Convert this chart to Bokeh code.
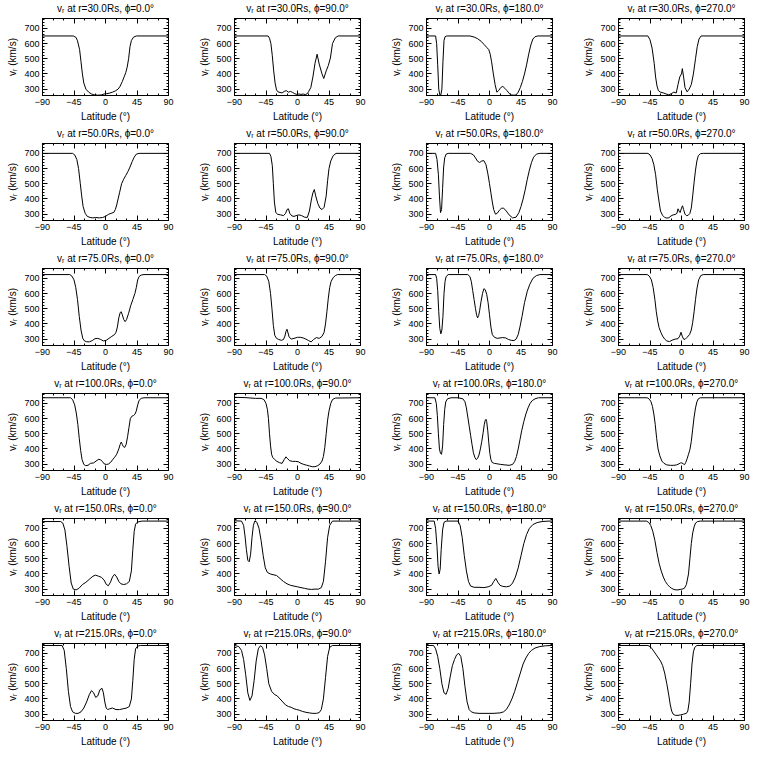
from bokeh.plotting import figure
from bokeh.layouts import gridplot
from bokeh.models import LinearAxis, FixedTicker, Range1d, CustomLabelingPolicy
from bokeh.embed import file_html
from bokeh.resources import INLINE

radii = [30.0, 50.0, 75.0, 100.0, 150.0, 215.0]
phis = [0.0, 90.0, 180.0, 270.0]

x_ticks = [-90, -45, 0, 45, 90]
x_minor = list(range(-90, 91, 15))
y_ticks = [300, 400, 500, 600, 700]
y_minor = list(range(260, 761, 20))

# ---------------- r = 30 Rs ----------------
lat_30_0 = [-90, -46, -42, -40, -37, -35, -33, -31, -28, -24, -20, -16, -11, -6, -2, 2, 6, 10, 14, 18, 21, 24, 27, 29, 31, 33, 35, 37, 40, 44, 90]
v_30_0 = [650, 650, 640, 618, 560, 480, 400, 340, 300, 280, 268, 262, 260, 262, 268, 270, 274, 280, 288, 300, 320, 350, 385, 410, 445, 500, 580, 620, 642, 650, 650]

lat_30_90 = [-90, -42, -40, -38, -36, -34, -32, -30, -28, -25, -22, -19, -16, -13, -10, -7, -4, -1, 2, 5, 8, 11, 14, 16, 19, 22, 25, 28, 31, 35, 37.5, 41, 44, 47, 50, 54, 58, 90]
v_30_90 = [650, 650, 635, 600, 520, 420, 340, 295, 282, 278, 275, 285, 290, 280, 285, 278, 270, 265, 268, 265, 268, 264, 270, 285, 310, 380, 470, 530, 465, 400, 370, 420, 455, 505, 600, 638, 650, 650]

lat_30_180 = [-90, -77, -75.5, -74, -72.5, -71, -69.5, -68, -66.5, -65, -63.5, -61, -28, -22, -17, -12, -8, -4, -1, 1, 3, 5.5, 8, 10.5, 13, 16, 19, 22, 25, 28, 31, 35, 38, 41, 44, 47, 50, 53, 56, 59, 62, 65, 69, 90]
v_30_180 = [650, 650, 600, 460, 300, 262, 262, 300, 480, 620, 645, 650, 650, 643, 632, 615, 595, 575, 560, 530, 480, 400, 330, 280, 290, 310, 318, 305, 290, 272, 262, 260, 262, 280, 310, 350, 400, 460, 530, 590, 630, 645, 650, 650]

lat_30_270 = [-90, -48, -45, -42, -39, -37, -35, -33, -30, -26, -22, -18, -14.5, -11, -7.5, -5, -2.5, 0, 1.2, 3, 5, 8, 11, 14, 17, 20, 22.5, 25, 28, 90]
v_30_270 = [650, 650, 625, 570, 470, 380, 320, 290, 280, 275, 268, 262, 270, 280, 275, 330, 380, 400, 435, 380, 310, 282, 300, 330, 400, 500, 580, 630, 650, 650]

# ---------------- r = 50 Rs ----------------
lat_50_0 = [-90, -47, -44, -41, -38.5, -36, -34, -32, -29, -26, -22, -18, -14, -9, -4, 0, 4, 8, 12, 14, 16, 18, 20, 23, 26, 29, 32, 35, 38, 41, 44, 48, 90]
v_50_0 = [700, 700, 690, 660, 600, 500, 420, 350, 305, 285, 278, 275, 278, 275, 278, 285, 298, 305, 312, 330, 360, 400, 440, 500, 530, 555, 580, 610, 645, 675, 695, 700, 700]

lat_50_90 = [-90, -40, -38, -36, -34.5, -33, -31, -28, -24, -20, -17, -15, -13, -11, -8, -5, -2, 2, 6, 10, 14, 17, 20, 22, 24, 26, 29, 32, 35, 38, 41, 43, 45, 47.5, 51, 55, 90]
v_50_90 = [700, 700, 680, 620, 500, 380, 310, 298, 295, 290, 305, 330, 335, 305, 288, 285, 290, 295, 290, 280, 278, 320, 400, 440, 462, 420, 370, 340, 330, 345, 420, 520, 600, 650, 685, 700, 700]

lat_50_180 = [-90, -77, -75, -73, -71.5, -70, -68.5, -67, -65.5, -64, -62, -59, -27, -23, -20, -17, -14, -11, -8, -5, -2.5, 0, 2, 4, 6, 8.5, 11, 14, 17, 20, 24, 28, 33, 38, 42, 45, 48, 51, 54, 57, 60, 63, 67, 72, 90]
v_50_180 = [700, 700, 660, 560, 420, 310, 330, 470, 610, 670, 695, 700, 700, 690, 670, 648, 640, 650, 652, 625, 570, 500, 440, 380, 330, 300, 305, 325, 338, 340, 320, 295, 275, 280, 310, 350, 400, 460, 530, 590, 640, 675, 695, 700, 700]

lat_50_270 = [-90, -48, -45, -42, -39.5, -37, -34.5, -32, -30, -27, -24, -21, -18, -15, -12, -9, -6.5, -5, -3.5, -2, 0, 1.5, 3, 5, 7, 9.5, 12, 14, 16, 18, 20, 22, 24, 27, 31, 90]
v_50_270 = [700, 700, 690, 665, 625, 560, 460, 380, 320, 292, 278, 274, 276, 288, 295, 298, 305, 335, 320, 310, 340, 355, 330, 300, 290, 292, 305, 340, 420, 510, 590, 650, 685, 698, 700, 700]

# ---------------- r = 75 Rs ----------------
lat_75_0 = [-90, -51, -48, -45, -42.5, -40, -37.5, -35, -32.5, -30, -27, -23, -19, -15, -11, -7, -3, 1, 5, 9, 13, 15, 17, 19, 21, 22.5, 24, 26, 28, 30, 33, 36, 39, 42, 44, 46, 48, 51, 55, 90]
v_75_0 = [725, 725, 715, 690, 640, 560, 450, 360, 305, 288, 283, 282, 290, 303, 305, 298, 288, 292, 305, 318, 330, 345, 380, 440, 475, 480, 460, 430, 415, 428, 470, 520, 560, 600, 640, 690, 712, 722, 725, 725]

lat_75_90 = [-90, -47, -44, -41, -38.5, -36.5, -34.5, -32.5, -30, -27, -23, -20, -18, -16.5, -15, -13.5, -12, -9, -5, 0, 4, 8, 12, 16, 19.5, 23, 27, 31, 35, 38, 40, 42, 44, 46, 48, 51, 54, 57, 90]
v_75_90 = [725, 725, 715, 680, 600, 500, 390, 325, 305, 298, 292, 298, 320, 350, 365, 340, 315, 300, 305, 312, 312, 308, 300, 290, 282, 298, 310, 305, 318, 345, 400, 480, 570, 640, 680, 705, 718, 725, 725]

lat_75_180 = [-90, -77, -75.5, -74, -72.5, -71, -69.5, -68, -66.5, -65, -63.5, -62, -59, -31, -28, -26, -24, -22, -20, -18.5, -17, -15.5, -14, -12, -10, -8, -6, -4, -2, 0, 2, 4, 7, 11, 15, 19, 23, 27, 31, 35, 38, 41, 43.5, 46.5, 50, 54, 57.5, 62, 67, 72, 90]
v_75_180 = [725, 725, 700, 620, 480, 370, 335, 360, 450, 600, 680, 712, 725, 725, 712, 680, 620, 560, 500, 460, 440, 455, 490, 550, 600, 632, 625, 595, 540, 460, 380, 330, 312, 305, 308, 310, 308, 298, 292, 290, 300, 330, 380, 450, 540, 615, 660, 700, 718, 725, 725]

lat_75_270 = [-90, -49, -46, -43, -40.5, -38, -36, -34, -32, -29.5, -27, -24, -21, -17, -13.5, -9, -5, -2.5, -0.7, 1, 3, 5, 8, 11.5, 14, 16, 18, 20, 22, 24.5, 27.5, 31, 90]
v_75_270 = [725, 725, 715, 690, 640, 560, 480, 420, 375, 345, 320, 300, 288, 284, 293, 300, 303, 320, 345, 320, 300, 298, 312, 330, 360, 410, 480, 560, 630, 690, 718, 725, 725]

# ---------------- r = 100 Rs ----------------
lat_100_0 = [-90, -50, -47, -44, -41.5, -39.5, -37.5, -35.5, -33.5, -31, -28.5, -25, -21.5, -17, -12, -9.5, -7, -4.5, -2, 1, 4, 7, 10, 13, 16, 19, 21, 22.5, 24, 25.5, 27.5, 29.5, 31.5, 33.5, 35.5, 37.5, 40, 42, 44, 46, 48, 51, 55, 90]
v_100_0 = [737, 737, 725, 690, 630, 560, 470, 390, 330, 298, 290, 292, 305, 308, 325, 332, 328, 318, 302, 298, 300, 310, 328, 345, 365, 400, 430, 445, 430, 415, 410, 430, 480, 540, 600, 615, 620, 628, 650, 690, 720, 733, 737, 737]

lat_100_90 = [-90, -75, -60, -52, -48, -45, -43, -41.5, -40, -38.5, -37, -35.5, -33, -30, -26, -22, -19, -16.5, -14, -11, -7, -3, 1, 5, 9, 13, 17, 21, 25, 29, 32, 35, 37, 39, 41, 43, 45, 47.5, 50, 54, 90]
v_100_90 = [740, 738, 733, 733, 725, 700, 660, 600, 500, 420, 365, 345, 332, 320, 310, 305, 330, 348, 335, 322, 318, 318, 316, 305, 298, 293, 288, 283, 283, 290, 300, 320, 350, 410, 500, 590, 650, 700, 725, 735, 737]

lat_100_180 = [-90, -78, -76, -74.5, -73, -71.5, -70, -68.5, -67, -65.5, -64, -62.5, -60, -55, -45, -38, -35, -33, -31, -29, -27, -25, -23, -21, -19, -17, -15, -13, -11, -9, -7.5, -6, -5, -4, -2.5, -1, 0.5, 2, 4, 7, 11, 16, 22, 28, 33, 36, 38.5, 41, 43.5, 46, 49, 52, 55, 58, 61, 65, 70, 90]
v_100_180 = [737, 737, 700, 620, 500, 400, 370, 365, 420, 560, 660, 710, 730, 737, 737, 730, 710, 670, 610, 550, 490, 430, 375, 345, 330, 338, 360, 400, 450, 510, 560, 590, 595, 580, 520, 440, 370, 330, 310, 305, 302, 298, 295, 292, 298, 318, 350, 400, 460, 520, 580, 630, 670, 700, 718, 730, 737, 737]

lat_100_270 = [-90, -49, -46, -43.5, -41.5, -39.5, -37.5, -35.5, -33.5, -31, -28, -25, -21, -16, -11, -7, -3.5, -1.5, 0.5, 2.5, 4.3, 6, 8, 10, 12, 14, 16, 18, 20, 22, 24, 27, 90]
v_100_270 = [737, 737, 728, 710, 680, 630, 560, 470, 400, 355, 320, 305, 295, 292, 292, 295, 302, 308, 308, 302, 296, 310, 335, 365, 395, 450, 530, 610, 670, 710, 730, 737, 737]

# ---------------- r = 150 Rs ----------------
lat_150_0 = [-90, -64, -61, -58, -55, -52, -49, -46, -42, -38, -33, -28, -23, -18, -14, -10, -6, -2, 1, 4, 7, 10, 13, 16, 19, 22, 26, 30, 34, 37, 39, 41, 43, 46, 52, 90]
v_150_0 = [745, 745, 735, 690, 580, 450, 340, 300, 295, 305, 330, 345, 365, 385, 392, 385, 378, 360, 332, 322, 345, 380, 398, 380, 350, 335, 330, 335, 350, 420, 560, 680, 728, 742, 748, 748]

lat_150_90 = [-90, -80, -77, -75, -73, -71, -69, -67, -65, -63, -61, -58, -55, -52, -49, -46, -43, -39, -35, -30, -25, -20, -15, -10, -5, 0, 5, 10, 15, 20, 25, 30, 34, 37, 40, 43, 46, 50, 90]
v_150_90 = [750, 748, 720, 650, 560, 490, 480, 530, 640, 720, 748, 740, 700, 620, 520, 440, 410, 400, 395, 390, 370, 350, 335, 325, 320, 315, 310, 305, 300, 298, 300, 300, 310, 350, 480, 640, 720, 748, 748]

lat_150_180 = [-90, -79, -77, -75, -73.5, -72, -70.5, -69, -67, -65, -62, -45, -42, -39, -36, -33, -30, -27, -22, -15, -8, -2, 3, 6, 9, 12, 15, 19, 24, 29, 33, 37, 41, 45, 49, 53, 57, 62, 68, 75, 85, 90]
v_150_180 = [748, 748, 700, 580, 450, 400, 430, 560, 690, 740, 748, 748, 720, 640, 520, 420, 350, 320, 312, 312, 310, 315, 325, 350, 370, 345, 325, 318, 315, 320, 340, 380, 440, 520, 600, 660, 700, 725, 738, 745, 748, 748]

lat_150_270 = [-90, -50, -47, -44, -41, -38, -35, -32, -29, -26, -23, -20, -17, -14, -11, -8, -5, -2, 1, 4, 7, 10, 12, 14, 16, 18, 20, 23, 27, 90]
v_150_270 = [748, 748, 740, 720, 680, 620, 540, 470, 420, 380, 350, 330, 315, 305, 298, 295, 295, 298, 300, 305, 330, 400, 500, 600, 670, 710, 735, 745, 748, 748]

# ---------------- r = 215 Rs ----------------
lat_215_0 = [-90, -62, -59, -56, -53, -50, -47, -43, -39, -35, -31, -27, -23, -20, -17, -14, -11, -8, -5, -3, -1, 1, 3, 6, 10, 15, 20, 25, 30, 34, 37, 39, 41, 43, 46, 50, 90]
v_215_0 = [752, 752, 720, 600, 450, 350, 315, 305, 305, 315, 340, 380, 430, 455, 440, 410, 420, 460, 470, 440, 380, 340, 330, 335, 340, 330, 330, 335, 340, 350, 400, 520, 660, 730, 748, 752, 752]

lat_215_90 = [-90, -84, -80, -77, -74, -71, -68, -65, -62, -59, -56, -53, -50, -47, -44, -41, -37, -33, -29, -25, -21, -17, -13, -9, -5, -1, 3, 7, 12, 17, 22, 27, 31, 34, 37, 40, 43, 46, 50, 90]
v_215_90 = [752, 745, 720, 660, 560, 440, 390, 420, 520, 650, 730, 750, 740, 690, 600, 500, 450, 430, 420, 400, 380, 360, 350, 345, 335, 330, 325, 318, 312, 308, 305, 305, 310, 330, 400, 540, 680, 740, 752, 752]

lat_215_180 = [-90, -80, -77, -74, -71, -68, -65, -62, -59, -56, -53, -50, -47, -44, -41, -38, -35, -32, -29, -26, -22, -15, -5, 5, 15, 20, 24, 28, 32, 36, 40, 44, 48, 52, 56, 60, 65, 72, 80, 90]
v_215_180 = [752, 752, 730, 680, 600, 500, 440, 430, 470, 550, 620, 660, 690, 700, 680, 600, 480, 380, 330, 315, 308, 305, 305, 305, 308, 315, 330, 360, 400, 450, 510, 570, 630, 670, 700, 720, 735, 745, 750, 752]

lat_215_270 = [-90, -48, -45, -42, -39, -36, -33, -30, -27, -24, -21, -18, -16, -14, -12, -9, -5, -1, 3, 7, 9, 11, 13, 15, 17, 19, 22, 90]
v_215_270 = [752, 752, 745, 730, 710, 690, 670, 650, 620, 570, 500, 420, 360, 320, 300, 292, 292, 295, 300, 305, 320, 380, 500, 630, 710, 740, 752, 752]

series = {
    (30.0, 0.0): (lat_30_0, v_30_0), (30.0, 90.0): (lat_30_90, v_30_90),
    (30.0, 180.0): (lat_30_180, v_30_180), (30.0, 270.0): (lat_30_270, v_30_270),
    (50.0, 0.0): (lat_50_0, v_50_0), (50.0, 90.0): (lat_50_90, v_50_90),
    (50.0, 180.0): (lat_50_180, v_50_180), (50.0, 270.0): (lat_50_270, v_50_270),
    (75.0, 0.0): (lat_75_0, v_75_0), (75.0, 90.0): (lat_75_90, v_75_90),
    (75.0, 180.0): (lat_75_180, v_75_180), (75.0, 270.0): (lat_75_270, v_75_270),
    (100.0, 0.0): (lat_100_0, v_100_0), (100.0, 90.0): (lat_100_90, v_100_90),
    (100.0, 180.0): (lat_100_180, v_100_180), (100.0, 270.0): (lat_100_270, v_100_270),
    (150.0, 0.0): (lat_150_0, v_150_0), (150.0, 90.0): (lat_150_90, v_150_90),
    (150.0, 180.0): (lat_150_180, v_150_180), (150.0, 270.0): (lat_150_270, v_150_270),
    (215.0, 0.0): (lat_215_0, v_215_0), (215.0, 90.0): (lat_215_90, v_215_90),
    (215.0, 180.0): (lat_215_180, v_215_180), (215.0, 270.0): (lat_215_270, v_215_270),
}

FONT = "Liberation Sans"
col_widths = [192, 192, 192, 176]
col_right = [24, 24, 24, 8]


def style_axis(ax, ticks, minor, labels):
    ax.ticker = FixedTicker(ticks=ticks, minor_ticks=minor)
    ax.axis_line_color = "black"
    ax.major_tick_line_color = "black"
    ax.minor_tick_line_color = "black"
    ax.major_tick_in = 5
    ax.major_tick_out = 0
    ax.minor_tick_in = 2
    ax.minor_tick_out = 0
    if labels:
        ax.major_label_text_font = FONT
        ax.major_label_text_font_size = "9px"
        ax.major_label_text_color = "black"
        ax.major_label_standoff = 3
        ax.axis_label_text_font = FONT
        ax.axis_label_text_font_size = "10px"
        ax.axis_label_text_font_style = "normal"
        ax.axis_label_text_color = "black"
        ax.axis_label_standoff = 3
    else:
        # mirror axis: ticks only, no labels drawn at all
        ax.major_label_policy = CustomLabelingPolicy(code="return []")
        ax.major_label_text_font_size = "1px"
        ax.major_label_standoff = 0


rows = []
for r in radii:
    row_figs = []
    for ci, phi in enumerate(phis):
        lat, v = series[(r, phi)]
        p = figure(width=col_widths[ci], height=125,
                   x_range=Range1d(-90, 90), y_range=Range1d(258, 765),
                   output_backend="svg", toolbar_location=None, tools="",
                   min_border_left=42, min_border_right=col_right[ci],
                   min_border_top=13, min_border_bottom=30,
                   title=f"v\u1d63 at r={r:.1f}Rs, \u03d5={phi:.1f}\u00b0")
        p.title.align = "center"
        p.title.text_font = FONT
        p.title.text_font_size = "10px"
        p.title.text_font_style = "normal"
        p.title.text_color = "black"
        p.title.standoff = 1
        p.title.offset = 0
        p.xgrid.visible = False
        p.ygrid.visible = False
        p.outline_line_color = "black"
        p.outline_line_alpha = 1.0
        p.background_fill_color = "white"
        p.border_fill_color = "white"

        style_axis(p.xaxis[0], x_ticks, x_minor, True)
        style_axis(p.yaxis[0], y_ticks, y_minor, True)
        p.xaxis[0].axis_label = "Latitude (\u00b0)"
        p.yaxis[0].axis_label = "v\u1d63 (km/s)"

        top = LinearAxis()
        style_axis(top, x_ticks, x_minor, False)
        p.add_layout(top, "above")
        right = LinearAxis()
        style_axis(right, y_ticks, y_minor, False)
        p.add_layout(right, "right")

        p.line(lat, v, line_color="black", line_width=1)
        row_figs.append(p)
    rows.append(row_figs)

grid = gridplot(rows, toolbar_location=None)
open("out.html", "w").write(file_html(grid, INLINE))
